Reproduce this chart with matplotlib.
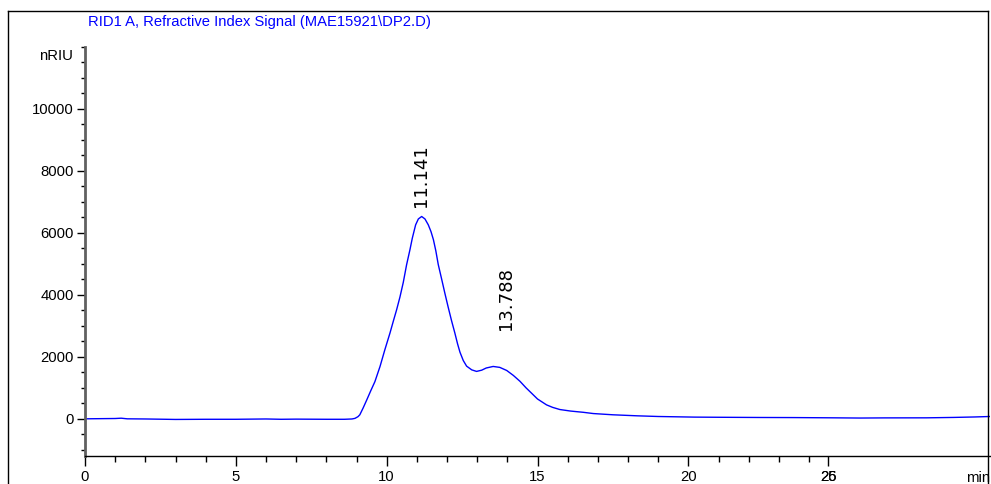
import matplotlib
matplotlib.use('Agg')
import matplotlib.pyplot as plt
from matplotlib.lines import Line2D

# retention time (min) and refractive index signal (nRIU)
time_min = [0.0, 0.5, 1.0, 1.2, 1.4, 2.0, 3.0, 4.0, 5.0, 6.0, 6.5, 7.0, 8.0, 8.6,
            8.85, 8.95, 9.05, 9.11, 9.22, 9.34, 9.47, 9.61, 9.78, 9.94, 10.11,
            10.22, 10.33, 10.44, 10.55, 10.66, 10.77, 10.85, 10.96, 11.05,
            11.16, 11.27, 11.38, 11.47, 11.55, 11.63, 11.71, 11.82, 11.93,
            12.04, 12.15, 12.26, 12.35, 12.43, 12.54, 12.65, 12.82, 12.98,
            13.15, 13.3, 13.53, 13.75, 13.98, 14.2, 14.42, 14.62, 14.8, 15.0,
            15.3, 15.5, 15.74, 16.1, 16.52, 16.85, 17.5, 18.3, 19.0, 20.2,
            21.0, 22.4, 23.5, 24.8, 25.7, 26.5, 27.9, 28.8, 29.5, 30.0]
signal = [0, 5, 10, 20, 0, -5, -20, -15, -15, -5, -15, -10, -15, -15,
          -5, 15, 70, 130, 350, 610, 900, 1200, 1690, 2230, 2770,
          3150, 3520, 3930, 4400, 4970, 5450, 5830, 6260, 6450,
          6530, 6450, 6260, 6040, 5780, 5420, 4980, 4520, 4050,
          3600, 3170, 2770, 2420, 2150, 1880, 1700, 1580, 1530,
          1570, 1640, 1690, 1660, 1560, 1400, 1210, 1000, 830, 640,
          450, 370, 300, 250, 210, 170, 130, 97, 75, 55,
          50, 43, 40, 32, 25, 30, 32, 45, 60, 75]

peak_times = [11.141, 13.95]
peak_labels = ['11.141', '13.788']
peak_label_y = [6850, 2870]

y_major = [0, 2000, 4000, 6000, 8000, 10000]
x_major = [0, 5, 10, 15, 20, 24.64]
x_major_labels = ['0', '5', '10', '15', '20', '25']

plt.rcParams['font.family'] = ['Liberation Sans', 'DejaVu Sans']

fig = plt.figure(figsize=(9.91, 4.84), dpi=100)
W, H = 991, 484
ax = fig.add_axes([85 / W, 28 / H, 905 / W, 409 / H])

ax.plot(time_min, signal, color='#0000ff', lw=1.0)

for t, lab, yv in zip(peak_times, peak_labels, peak_label_y):
    ax.text(t, yv, lab, rotation=90, ha='center', va='bottom',
            fontsize=13, family='DejaVu Sans', color='black')

ax.set_xlim(0, 30)
ax.set_ylim(-1200, 12000)

ax.spines['top'].set_visible(False)
ax.spines['right'].set_visible(False)
ax.spines['left'].set_color('#606060')
ax.spines['left'].set_linewidth(2)
ax.spines['bottom'].set_linewidth(1)

ax.set_yticks(y_major)
ax.set_yticklabels([str(v) for v in y_major])
ax.set_yticks([v for v in range(-1000, 12001, 500) if v not in y_major], minor=True)
ax.set_xticks(x_major)
ax.set_xticklabels(x_major_labels)
ax.set_xticks([v for v in range(1, 25) if v % 5 != 0], minor=True)

ax.tick_params(axis='y', which='major', length=6, width=1, pad=2, labelsize=10.7)
ax.tick_params(axis='y', which='minor', length=3, width=1)
ax.tick_params(axis='x', which='major', length=7, width=1, pad=3, labelsize=10.7)
ax.tick_params(axis='x', which='minor', length=4, width=1)

# overlapping axis label left by the instrument software
ax.annotate('26', xy=(24.64, 0), xycoords=('data', 'axes fraction'),
            xytext=(0, -10), textcoords='offset points',
            ha='center', va='top', fontsize=10.7)
ax.annotate('min', xy=(1, 0), xycoords='axes fraction',
            xytext=(0, -11), textcoords='offset points',
            ha='right', va='top', fontsize=10.7)
ax.annotate('nRIU', xy=(0, 11700), xycoords=('axes fraction', 'data'),
            xytext=(-9, 0), textcoords='offset points',
            ha='right', va='center', fontsize=10.7)

fig.text(88 / W, 1 - 22 / H, 'RID1 A, Refractive Index Signal (MAE15921\\DP2.D)',
         color='#0000ff', fontsize=10.6, ha='left', va='center')

# outer report frame
fig.add_artist(Line2D([8 / W, 8 / W], [0, 1 - 11 / H], color='black', lw=1))
fig.add_artist(Line2D([8 / W, 988 / W], [1 - 11 / H, 1 - 11 / H], color='black', lw=1))
fig.add_artist(Line2D([988 / W, 988 / W], [0, 1 - 11 / H], color='black', lw=1))

fig.savefig('out.png', dpi=100)
